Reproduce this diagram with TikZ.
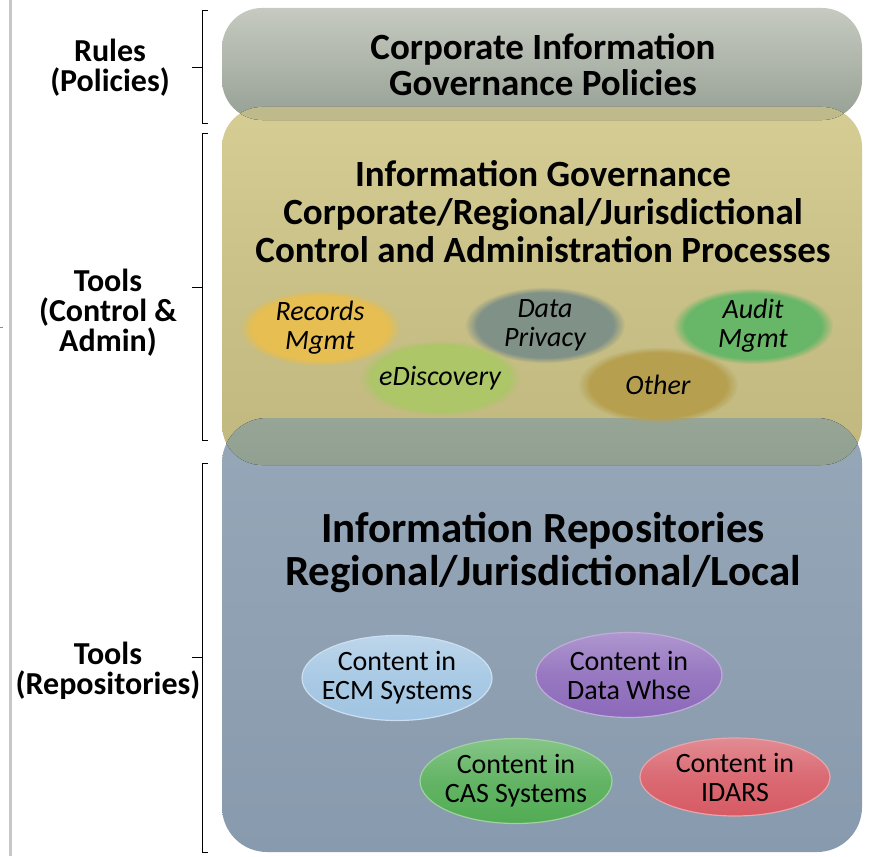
\documentclass[tikz,border=0pt]{standalone}
\usepackage{fontspec}
\setmainfont{Carlito}
\usetikzlibrary{shapes.geometric,fadings}
\definecolor{graytop}{RGB}{198,202,192}
\definecolor{graybot}{RGB}{150,160,148}
\definecolor{olivetop}{RGB}{214,205,148}
\definecolor{olivebot}{RGB}{192,184,126}
\definecolor{bluetop}{RGB}{150,167,184}
\definecolor{bluebot}{RGB}{136,154,173}
\definecolor{bandtop}{RGB}{150,165,150}
\definecolor{bandbot}{RGB}{100,118,104}
\definecolor{gobandtop}{RGB}{190,186,140}
\definecolor{gobandbot}{RGB}{172,170,128}
\definecolor{cRec}{RGB}{230,190,82}
\definecolor{cPriv}{RGB}{128,145,135}
\definecolor{cAud}{RGB}{104,182,104}
\definecolor{cDisc}{RGB}{172,198,104}
\definecolor{cOth}{RGB}{182,160,80}
\definecolor{cECM}{RGB}{160,196,226}
\definecolor{cWhse}{RGB}{140,105,186}
\definecolor{cCAS}{RGB}{82,172,84}
\definecolor{cIDA}{RGB}{214,90,100}
\tikzset{
  bigbox/.style={rectangle, rounded corners=40pt, minimum width=640pt, inner sep=0pt},
  title/.style={font=\bfseries\fontsize{37}{36}\selectfont, align=center, text=black},
  side/.style={font=\bfseries\fontsize{32}{30}\selectfont, align=center, text=black},
  softell/.style={ellipse, minimum width=160pt, minimum height=76pt, inner sep=0pt,
     fill=#1, path fading=circle with fuzzy edge 15 percent},
  softtxt/.style={font=\itshape\fontsize{28}{29}\selectfont, align=center, text=black},
  glossell/.style={ellipse, minimum width=190pt, minimum height=85pt, inner sep=0pt,
     top color=#1!70!white, bottom color=#1, middle color=#1!90!white,
     draw=#1!55!white, line width=1.2pt},
  glosstxt/.style={font=\fontsize{28}{29}\selectfont, align=center, text=black},
  brk/.style={draw=black, line width=0.8pt},
}
\begin{document}
\begin{tikzpicture}[x=1pt,y=-1pt]
\useasboundingbox (0,0) rectangle (877,856);
\fill[white] (0,0) rectangle (877,856);
% left rule
\draw[line width=3pt, black!22] (10,0) -- (10,856);
\draw[line width=1pt, black!45] (0,327) -- (3,327);
% boxes
\node[bigbox, minimum height=112pt, top color=graytop, bottom color=graybot] (pol) at (542,64) {};
\node[bigbox, minimum height=358pt, top color=olivetop, bottom color=olivebot, middle color=olivebot!60!olivetop] (ctl) at (542,286) {};
\node[bigbox, minimum height=434pt, rounded corners=45pt, top color=bluetop, bottom color=bluebot] (rep) at (542,635) {};
% overlaps
\begin{scope}
  \clip[rounded corners=40pt] (222,8) rectangle (862,120);
  \fill[rounded corners=40pt, top color=gobandtop, bottom color=gobandbot] (222,107) rectangle (862,465);
\end{scope}
\begin{scope}
  \clip[rounded corners=40pt] (222,107) rectangle (862,465);
  \fill[rounded corners=45pt, top color=bandtop, bottom color=bandbot] (222,418) rectangle (862,852);
\end{scope}
% titles
\node[title] (tpol) at (543,65) {Corporate Information\\Governance Policies};
\node[title, font=\bfseries\fontsize{37}{38}\selectfont] (tctl) at (543,212) {Information Governance\\Corporate/Regional/Jurisdictional\\Control and Administration Processes};
\node[title, font=\bfseries\fontsize{43}{43}\selectfont] (trep) at (543,553) {Information Repositories\\Regional/Jurisdictional/Local};
% soft ellipses
\node[softell=cRec] (rec) at (320,328) {};
\node[softtxt] at (rec) {Records\\Mgmt};
\node[softell=cPriv] (priv) at (545,325) {};
\node[softtxt] at (priv) {Data\\Privacy};
\node[softell=cAud] (aud) at (753,326) {};
\node[softtxt] at (aud) {Audit\\Mgmt};
\node[softell=cDisc] (disc) at (440,378) {};
\node[softtxt] at (disc) {eDiscovery};
\node[softell=cOth] (oth) at (658,385) {};
\node[softtxt] at (oth) {Other};
% glossy ellipses
\node[glossell=cECM] (ecm) at (397,678) {};
\node[glosstxt] at (ecm) {Content in\\ECM Systems};
\node[glossell=cWhse, minimum width=186pt] (whse) at (629,675) {};
\node[glosstxt] at (whse) {Content in\\Data Whse};
\node[glossell=cCAS, minimum width=192pt] (cas) at (516,781) {};
\node[glosstxt] at (cas) {Content in\\CAS Systems};
\node[glossell=cIDA, minimum height=78pt] (ida) at (735,777) {};
\node[glosstxt] at (ida) {Content in\\IDARS};
% side labels
\node[side] (l1) at (110,68) {Rules\\(Policies)};
\node[side] (l2) at (108,313) {Tools\\(Control \&\\Admin)};
\node[side] (l3) at (108,671) {Tools\\(Repositories)};
% brackets
\draw[brk] (208,10) -- (202,10) -- (202,123) -- (208,123);
\draw[brk] (202,67) -- (192,67);
\draw[brk] (208,133) -- (202,133) -- (202,440) -- (208,440);
\draw[brk] (202,287) -- (192,287);
\draw[brk] (208,463) -- (202,463) -- (202,852) -- (208,852);
\draw[brk] (202,657) -- (192,657);
\end{tikzpicture}
\end{document}
